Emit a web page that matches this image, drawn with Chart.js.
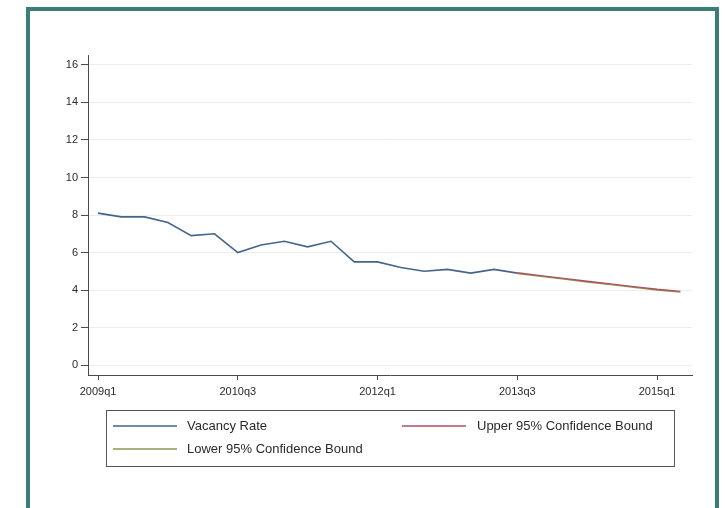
<!DOCTYPE html>
<html>
<head>
<meta charset="utf-8">
<script src="https://cdn.jsdelivr.net/npm/chart.js@4.4.1/dist/chart.umd.min.js"></script>
<style>
  html, body { margin: 0; padding: 0; background: #fff; }
  body { width: 726px; height: 508px; position: relative; overflow: hidden; }
  #frame {
    position: absolute; left: 26px; top: 7px; width: 693px; height: 530px;
    box-sizing: border-box; border: 4px solid #3b7d78;
  }
  #chart { position: absolute; left: 0; top: 0; }
</style>
</head>
<body>
<div id="frame"></div>
<canvas id="chart" width="726" height="508"></canvas>
<script>
    // ===== DATA ===== //
    const quarters = [
      "2009q1", "2009q2", "2009q3", "2009q4",
      "2010q1", "2010q2", "2010q3", "2010q4",
      "2011q1", "2011q2", "2011q3", "2011q4",
      "2012q1", "2012q2", "2012q3", "2012q4",
      "2013q1", "2013q2", "2013q3", "2013q4",
      "2014q1", "2014q2", "2014q3", "2014q4",
      "2015q1", "2015q2"
    ];
    const xTickLabels = ["2009q1", "2010q3", "2012q1", "2013q3", "2015q1"];
    const yTicks = [0, 2, 4, 6, 8, 10, 12, 14, 16];

    // observed vacancy rate, 2009q1 - 2013q3
    const vacancyRate = [8.1, 7.9, 7.9, 7.6, 6.9, 7.0, 6.0, 6.4, 6.6, 6.3,
                         6.6, 5.5, 5.5, 5.2, 5.0, 5.1, 4.9, 5.1, 4.9];
    // forecast bounds, 2013q3 - 2015q2
    const forecastStart = "2013q3";
    const upperBound = [4.92, 4.77, 4.62, 4.47, 4.33, 4.18, 4.04, 3.93];
    const lowerBound = [4.88, 4.73, 4.58, 4.43, 4.29, 4.14, 4.00, 3.89];

    const seriesNames = ["Vacancy Rate", "Upper 95% Confidence Bound", "Lower 95% Confidence Bound"];

    // ===== HELPERS ===== //
    function toPoints(values, startLabel) {
      const start = quarters.indexOf(startLabel);
      return values.map((v, i) => ({ x: start + i, y: v }));
    }

    const FONT = "'Liberation Sans', Arial, sans-serif";
    const TEXT = "#2a2a2a";
    const AXIS = "#4a4a4a";

    // Stata-like boxed legend, two columns filled row by row
    const boxLegend = {
      id: "boxLegend",
      afterDraw(chart) {
        const ctx = chart.ctx;
        const box = { left: 106.5, top: 410.5, right: 674.5, bottom: 466.5 };
        const cols = [113, 402];
        const rows = [426, 449];
        ctx.save();
        ctx.strokeStyle = "#555";
        ctx.lineWidth = 1;
        ctx.strokeRect(box.left, box.top, box.right - box.left, box.bottom - box.top);
        ctx.font = "13px " + FONT;
        ctx.textBaseline = "middle";
        ctx.fillStyle = TEXT;
        chart.data.datasets.forEach((ds, i) => {
          const x = cols[i % 2];
          const y = rows[Math.floor(i / 2)];
          ctx.strokeStyle = ds.borderColor;
          ctx.lineWidth = 1.5;
          ctx.beginPath();
          ctx.moveTo(x, y);
          ctx.lineTo(x + 64, y);
          ctx.stroke();
          ctx.fillText(ds.label, x + (i % 2 ? 75 : 74), y);
        });
        ctx.restore();
      }
    };

    // ===== CHART ===== //
    new Chart(document.getElementById("chart"), {
      type: "line",
      data: {
        datasets: [
          {
            label: seriesNames[0],
            data: toPoints(vacancyRate, "2009q1"),
            borderColor: "#46658b",
            borderWidth: 1.6
          },
          {
            label: seriesNames[1],
            data: toPoints(upperBound, forecastStart),
            borderColor: "#b0505e",
            borderWidth: 1.4
          },
          {
            label: seriesNames[2],
            data: toPoints(lowerBound, forecastStart),
            borderColor: "#8a9a52",
            borderWidth: 1.4
          }
        ]
      },
      options: {
        responsive: false,
        animation: false,
        layout: { padding: { top: 55, right: 34, left: 0, bottom: 0 } },
        elements: { point: { radius: 0 }, line: { tension: 0 } },
        plugins: { legend: { display: false }, tooltip: { enabled: false } },
        scales: {
          x: {
            type: "linear",
            min: -0.43,
            max: 25.5,
            afterBuildTicks: s => { s.ticks = xTickLabels.map(l => ({ value: quarters.indexOf(l) })); },
            afterFit: s => { s.height = 133; },
            ticks: {
              autoSkip: false, maxRotation: 0, padding: 5,
              color: TEXT, font: { family: FONT, size: 11 },
              callback: v => quarters[v]
            },
            grid: { drawOnChartArea: false, tickLength: 5, tickColor: AXIS },
            border: { color: AXIS, width: 1 }
          },
          y: {
            min: -0.53,
            max: 16.53,
            afterBuildTicks: s => { s.ticks = yTicks.map(v => ({ value: v })); },
            afterFit: s => { s.width = 88; },
            ticks: { padding: 3, color: TEXT, font: { family: FONT, size: 11 } },
            grid: { color: "#ededed", lineWidth: 1, tickLength: 7, tickColor: AXIS },
            border: { color: AXIS, width: 1 }
          }
        }
      },
      plugins: [boxLegend]
    });
</script>
</body>
</html>
